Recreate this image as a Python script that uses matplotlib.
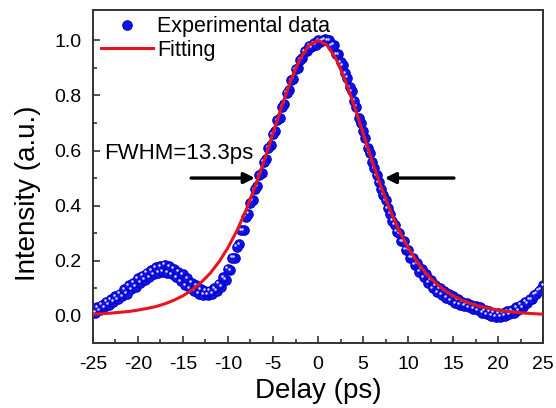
"""Autocorrelation trace with sech^2 fit."""

import matplotlib

matplotlib.use("Agg")
import matplotlib.pyplot as plt
import matplotlib.transforms as mtransforms
import numpy as np

plt.rcParams["font.family"] = ["Liberation Sans", "DejaVu Sans"]
plt.rcParams["axes.unicode_minus"] = False

# experimental trace, scan A (delay in ps, normalised intensity)
scan_a_delay = np.arange(-25, 25.01, 0.5)
scan_a_intensity = [
    0.02, 0.03, 0.04, 0.05, 0.06, 0.07, 0.08, 0.095, 0.11, 0.12,
    0.135, 0.145, 0.155, 0.165, 0.175, 0.18, 0.185, 0.18, 0.17, 0.16,
    0.15, 0.135, 0.12, 0.11, 0.095, 0.09, 0.09, 0.10, 0.115, 0.14,
    0.17, 0.21, 0.25, 0.31, 0.36, 0.41, 0.46, 0.51, 0.56, 0.61,
    0.66, 0.71, 0.76, 0.81, 0.855, 0.895, 0.93, 0.96, 0.98, 0.99,
    1.00, 1.00, 1.00, 0.98, 0.95, 0.92, 0.88, 0.83, 0.78, 0.72,
    0.67, 0.61, 0.56, 0.51, 0.46, 0.42, 0.37, 0.33, 0.30, 0.27,
    0.24, 0.21, 0.19, 0.17, 0.15, 0.13, 0.11, 0.10, 0.09, 0.08,
    0.07, 0.06, 0.05, 0.045, 0.04, 0.035, 0.03, 0.02, 0.015, 0.01,
    0.008, 0.01, 0.015, 0.02, 0.03, 0.04, 0.05, 0.06, 0.075, 0.09,
    0.11,
]

# experimental trace, scan B (interleaved points, lower edge of the band)
scan_b_delay = np.arange(-24.75, 24.8, 0.5)
scan_b_intensity = [
    0.01, 0.02, 0.03, 0.04, 0.05, 0.06, 0.07, 0.08, 0.095, 0.105,
    0.12, 0.13, 0.14, 0.15, 0.155, 0.16, 0.155, 0.15, 0.14, 0.125,
    0.11, 0.10, 0.09, 0.08, 0.075, 0.075, 0.08, 0.09, 0.105, 0.13,
    0.165, 0.21, 0.26, 0.31, 0.37, 0.42, 0.47, 0.52, 0.57, 0.62,
    0.67, 0.72, 0.77, 0.82, 0.86, 0.90, 0.935, 0.96, 0.975, 0.985,
    0.995, 1.005, 1.00, 0.985, 0.95, 0.91, 0.865, 0.815, 0.76, 0.70,
    0.645, 0.59, 0.535, 0.485, 0.44, 0.39, 0.345, 0.305, 0.27, 0.24,
    0.21, 0.185, 0.16, 0.14, 0.12, 0.10, 0.085, 0.075, 0.065, 0.055,
    0.045, 0.04, 0.035, 0.03, 0.025, 0.02, 0.01, 0.005, 0.0, -0.005,
    -0.005, 0.0, 0.005, 0.01, 0.02, 0.03, 0.045, 0.06, 0.08, 0.095,
]

# fitted curve (symmetric, listed from 0 to 25 ps)
fit_delay = np.arange(-25, 25.01, 1.0)
fit_half = [1.000, 0.983, 0.933, 0.857, 0.764, 0.663, 0.562, 0.468, 0.383,
            0.309, 0.247, 0.195, 0.153, 0.120, 0.093, 0.072, 0.056, 0.043,
            0.033, 0.026, 0.020, 0.015, 0.012, 0.009, 0.007, 0.005]
fit_intensity = fit_half[::-1] + fit_half[1:]

fwhm_text = "FWHM=13.3ps"
arrow_y = 0.50
left_arrow = (-14.4, -6.7)
right_arrow = (15.4, 7.1)

fig = plt.figure(figsize=(5.56, 4.08), dpi=100)
ax = fig.add_axes([0.167, 0.159, 0.810, 0.816])

hl = mtransforms.offset_copy(ax.transData, fig=fig, x=-1.5, y=1.5, units="dots")
for i, (xs, ys) in enumerate([(scan_b_delay, scan_b_intensity),
                              (scan_a_delay, scan_a_intensity)]):
    ax.plot(xs, ys, "o", ms=6.8, color="#1414e6", mec="#0000cc", mew=0.8,
            label="Experimental data" if i else None, zorder=2)
    ax.plot(xs, ys, "o", ms=1.8, color="#dcdcff", mew=0, transform=hl, zorder=3)
ax.plot(fit_delay, fit_intensity, color="#e8141c", lw=2.2, label="Fitting", zorder=4)

ax.text(-23.8, 0.59, fwhm_text, fontsize=16, va="center", ha="left")
arrow = dict(arrowstyle="-|>", lw=2.4, color="black", mutation_scale=16)
ax.annotate("", xy=(left_arrow[1], arrow_y), xytext=(left_arrow[0], arrow_y),
            arrowprops=arrow, zorder=5)
ax.annotate("", xy=(right_arrow[1], arrow_y), xytext=(right_arrow[0], arrow_y),
            arrowprops=arrow, zorder=5)

ax.set_xlim(-25, 25)
ax.set_ylim(-0.1, 1.11)
ax.set_xticks(np.arange(-25, 26, 5))
ax.set_xticks(np.arange(-22.5, 25, 5), minor=True)
ax.set_yticks(np.arange(0, 1.01, 0.2))
ax.set_yticks(np.arange(0.1, 1.1, 0.2), minor=True)
ax.set_yticklabels([f"{v:.1f}" for v in np.arange(0, 1.01, 0.2)])
ax.tick_params(which="both", direction="in", labelsize=14, width=1.2, color="#333333")
ax.tick_params(which="major", length=5)
ax.tick_params(which="minor", length=3)
ax.tick_params(axis="y", pad=8)
ax.tick_params(axis="x", pad=9)
for s in ax.spines.values():
    s.set_linewidth(1.4)
    s.set_color("#333333")

ax.set_xlabel("Delay (ps)", fontsize=20, labelpad=4)
ax.set_ylabel("Intensity (a.u.)", fontsize=20)
ax.yaxis.set_label_coords(-0.115, 0.45)

ax.legend(loc="upper left", bbox_to_anchor=(-0.01, 1.02), frameon=False,
          fontsize=15.5, handlelength=2.4, handletextpad=0.2, labelspacing=0.1,
          borderaxespad=0.2)

fig.savefig("out.png", dpi=100)
